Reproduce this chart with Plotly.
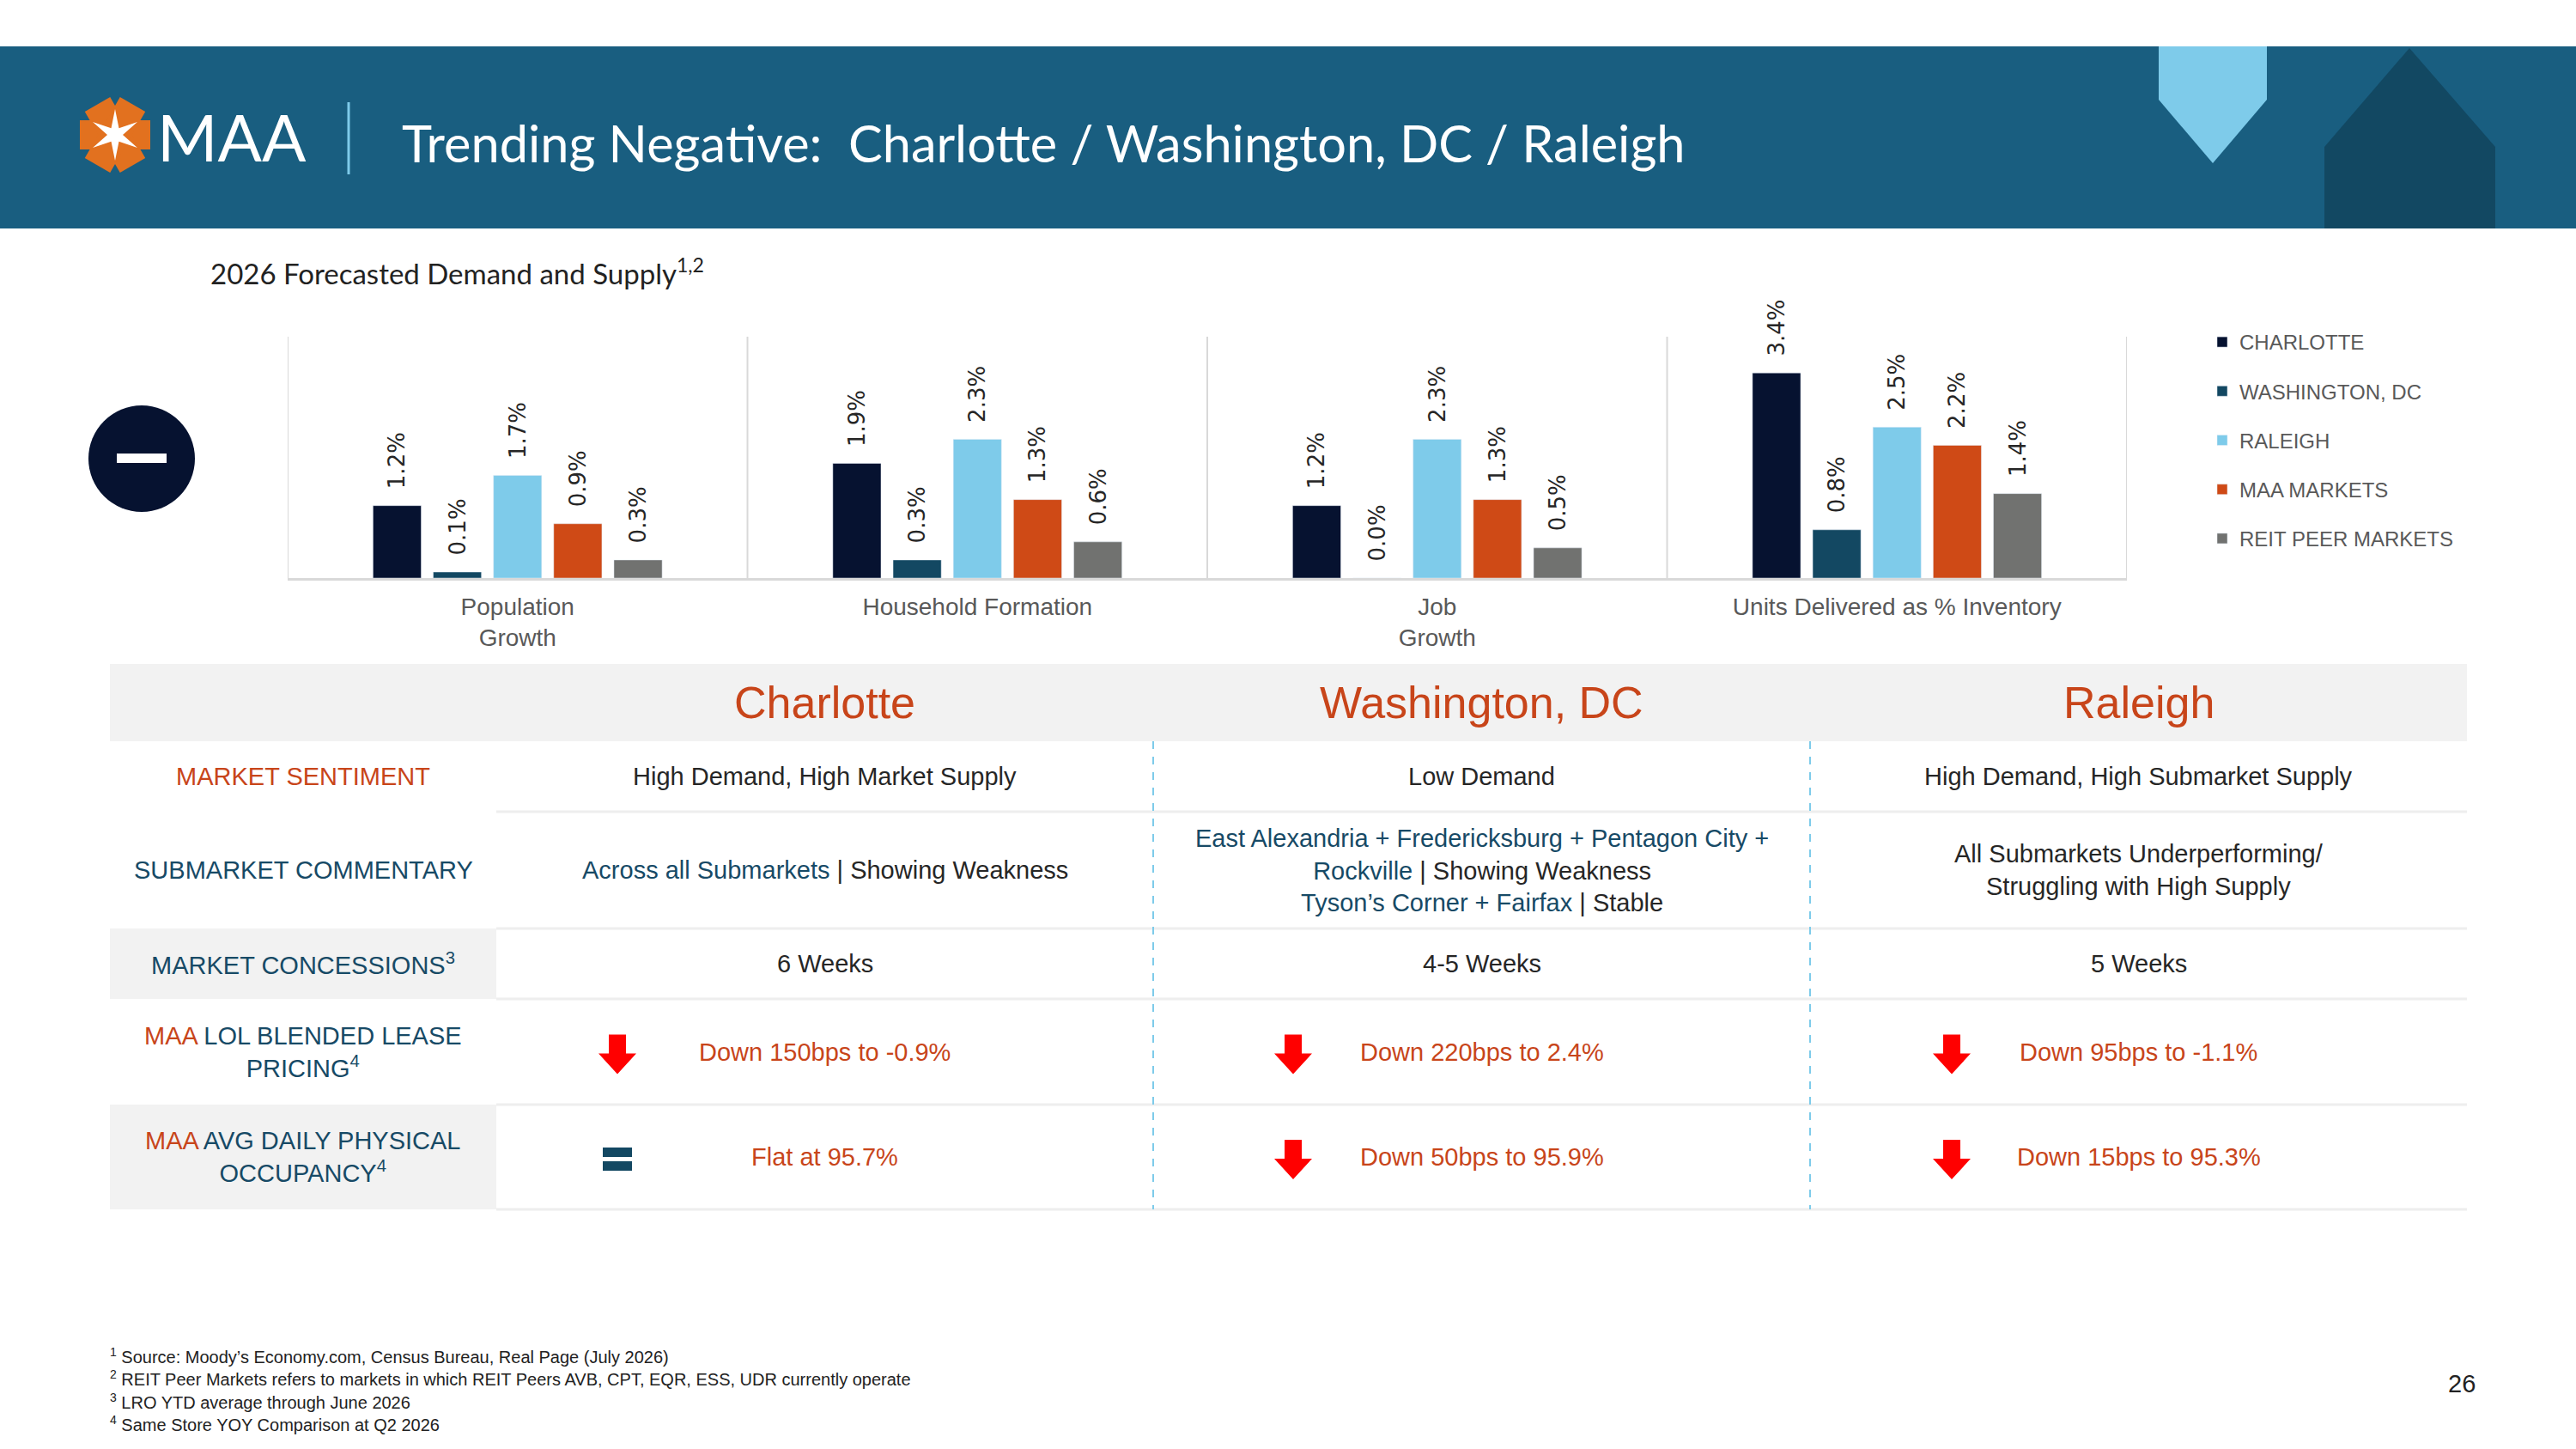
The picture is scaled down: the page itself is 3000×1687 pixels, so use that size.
import math
import plotly.graph_objects as go

W, H = 3000, 1687

# chart data
metrics = ["Population<br>Growth", "Household Formation", "Job<br>Growth",
           "Units Delivered as % Inventory"]
series_names = ["CHARLOTTE", "WASHINGTON, DC", "RALEIGH", "MAA MARKETS", "REIT PEER MARKETS"]
charlotte = [1.2, 1.9, 1.2, 3.4]
washington = [0.1, 0.3, 0.0, 0.8]
raleigh = [1.7, 2.3, 2.3, 2.5]
maa_markets = [0.9, 1.3, 1.3, 2.2]
reit_peers = [0.3, 0.6, 0.5, 1.4]
series_colors = ["#061230", "#134862", "#7ecbea", "#cf4a16", "#717270"]

# table data
markets = ["Charlotte", "Washington, DC", "Raleigh"]
sentiment = ["High Demand, High Market Supply", "Low Demand",
             "High Demand, High Submarket Supply"]
concessions = ["6 Weeks", "4-5 Weeks", "5 Weeks"]
lease_pricing = ["Down 150bps to -0.9%", "Down 220bps to 2.4%", "Down 95bps to -1.1%"]
lease_trend = ["down", "down", "down"]
occupancy = ["Flat at 95.7%", "Down 50bps to 95.9%", "Down 15bps to 95.3%"]
occupancy_trend = ["flat", "down", "down"]

ORANGE = "#c8451a"
TEAL = "#174a66"
DARK = "#262626"
GREY = "#595959"
FONT = "Liberation Sans, Arial, sans-serif"

commentary = [
    f"<span style='color:{TEAL}'>Across all Submarkets</span> | Showing Weakness",
    f"<span style='color:{TEAL}'>East Alexandria + Fredericksburg + Pentagon City +</span><br>"
    f"<span style='color:{TEAL}'>Rockville</span> | Showing Weakness<br>"
    f"<span style='color:{TEAL}'>Tyson’s Corner + Fairfax</span> | Stable",
    "All Submarkets Underperforming/<br>Struggling with High Supply",
]
row_labels = [
    f"<span style='color:{ORANGE}'>MARKET SENTIMENT</span>",
    "SUBMARKET COMMENTARY",
    "MARKET CONCESSIONS<sup>3</sup>",
    f"<span style='color:{ORANGE}'>MAA</span> LOL BLENDED LEASE<br>PRICING<sup>4</sup>",
    f"<span style='color:{ORANGE}'>MAA</span> AVG DAILY PHYSICAL<br>OCCUPANCY<sup>4</sup>",
]
footnotes = [
    "<sup>1</sup> Source: Moody’s Economy.com, Census Bureau, Real Page (July 2026)",
    "<sup>2</sup> REIT Peer Markets refers to markets in which REIT Peers AVB, CPT, EQR, ESS, UDR currently operate",
    "<sup>3</sup> LRO YTD average through June 2026",
    "<sup>4</sup> Same Store YOY Comparison at Q2 2026",
]


def px(x):
    return x / W


def py(y):
    return 1 - y / H


def path(points):
    return "M" + " L".join(f"{px(x)},{py(y)}" for x, y in points) + " Z"


fig = go.Figure()

all_series = [charlotte, washington, raleigh, maa_markets, reit_peers]
for name, vals, col in zip(series_names, all_series, series_colors):
    fig.add_trace(go.Bar(
        x=metrics, y=vals, name=name, marker_color=col, legendgroup=name,
        texttemplate="&nbsp;&nbsp;%{y:.1f}%", textposition="outside", textangle=-90,
        textfont=dict(family="DejaVu Sans, sans-serif", size=26, color=DARK),
        constraintext="none", cliponaxis=False,
    ))

shapes = []
annotations = []

# header band
shapes.append(dict(type="rect", xref="paper", yref="paper", x0=0, x1=1,
                   y0=py(266), y1=py(54), fillcolor="#195e80", line_width=0, layer="below"))
shapes.append(dict(type="path", xref="paper", yref="paper", fillcolor="#7ecbea", line_width=0,
                   path=path([(2514, 54), (2640, 54), (2640, 116), (2577, 190), (2514, 116)])))
shapes.append(dict(type="path", xref="paper", yref="paper", fillcolor="#124862", line_width=0,
                   path=path([(2806, 56), (2906, 171), (2906, 266), (2707, 266), (2707, 171)])))

# logo star
cx, cy = 134, 157
for ang in [0, 60, 120]:
    a = math.radians(ang)
    ca, sa = math.cos(a), math.sin(a)
    pts = []
    for dx, dy in [(-41, -17), (41, -17), (41, 17), (-41, 17)]:
        pts.append((cx + dx * ca - dy * sa, cy + dx * sa + dy * ca))
    shapes.append(dict(type="path", xref="paper", yref="paper", fillcolor="#e2711f",
                       line_width=0, path=path(pts)))
star = []
for k in range(12):
    r = 30 if k % 2 == 0 else 9
    a = math.radians(-90 + k * 30)
    star.append((cx + r * math.cos(a), cy + r * math.sin(a)))
shapes.append(dict(type="path", xref="paper", yref="paper", fillcolor="white",
                   line_width=0, path=path(star)))
annotations.append(dict(text="MAA", x=px(181), y=py(158), xref="paper", yref="paper",
                        xanchor="left", yanchor="middle", showarrow=False,
                        font=dict(family="Lato, sans-serif", size=76, color="white")))
shapes.append(dict(type="line", xref="paper", yref="paper", x0=px(406), x1=px(406),
                   y0=py(119), y1=py(203), line=dict(color="#7ecbea", width=3)))
annotations.append(dict(text="Trending Negative:&nbsp; Charlotte / Washington, DC / Raleigh",
                        x=px(466), y=py(166), xref="paper", yref="paper",
                        xanchor="left", yanchor="middle", showarrow=False,
                        font=dict(family="Lato, sans-serif", size=59.5, color="white")))

# chart subtitle
annotations.append(dict(text="2026 Forecasted Demand and Supply<sup>1,2</sup>",
                        x=px(243), y=py(316), xref="paper", yref="paper",
                        xanchor="left", yanchor="middle", showarrow=False,
                        font=dict(family="Lato, sans-serif", size=33, color="#222222")))

# group dividers
for i in range(len(metrics) + 1):
    shapes.append(dict(type="line", xref="x", yref="paper", x0=i - 0.5, x1=i - 0.5,
                       y0=py(673), y1=py(392), line=dict(color="#d9d9d9", width=2),
                       layer="below"))

# minus badge
shapes.append(dict(type="circle", xref="paper", yref="paper", x0=px(103), x1=px(227),
                   y0=py(596), y1=py(472), fillcolor="#061230", line_width=0))
shapes.append(dict(type="rect", xref="paper", yref="paper", x0=px(136), x1=px(194),
                   y0=py(539), y1=py(528), fillcolor="white", line_width=0))

# table layout
TX0, TX1 = 128, 2873
col_edges = [578, 1343, 2108, 2873]
row_edges = [773, 863, 945, 1081, 1163, 1286, 1408]
icon_dx = [141, 163, 165]

shapes.append(dict(type="rect", xref="paper", yref="paper", x0=px(TX0), x1=px(TX1),
                   y0=py(row_edges[1]), y1=py(row_edges[0]), fillcolor="#f2f2f2",
                   line_width=0, layer="below"))
for r in [3, 5]:
    shapes.append(dict(type="rect", xref="paper", yref="paper", x0=px(TX0), x1=px(col_edges[0]),
                       y0=py(row_edges[r + 1]), y1=py(row_edges[r]), fillcolor="#f2f2f2",
                       line_width=0, layer="below"))
for y in row_edges[2:]:
    shapes.append(dict(type="line", xref="paper", yref="paper", x0=px(col_edges[0]), x1=px(TX1),
                       y0=py(y), y1=py(y), line=dict(color="#eeeeee", width=3), layer="below"))
for x in col_edges[1:3]:
    shapes.append(dict(type="line", xref="paper", yref="paper", x0=px(x), x1=px(x),
                       y0=py(row_edges[1]), y1=py(row_edges[-1]),
                       line=dict(color="#7ecbea", width=2, dash="dash")))


def row_mid(r):
    return (row_edges[r] + row_edges[r + 1]) / 2


def add_text(text, x, y, size=29, color=DARK):
    annotations.append(dict(text=text, x=px(x), y=py(y), xref="paper", yref="paper",
                            xanchor="center", yanchor="middle", showarrow=False,
                            font=dict(family=FONT, size=size, color=color)))


for r, lab in enumerate(row_labels):
    add_text(lab, (TX0 + col_edges[0]) / 2, row_mid(r + 1), color=TEAL)


def down_arrow(x, y):
    return path([(x - 10, y - 23), (x + 10, y - 23), (x + 10, y - 1), (x + 22, y - 1),
                 (x, y + 23), (x - 22, y - 1), (x - 10, y - 1)])


for c, name in enumerate(markets):
    cx0, cx1 = col_edges[c], col_edges[c + 1]
    mid = (cx0 + cx1) / 2
    add_text(name, mid, row_mid(0), size=52, color=ORANGE)
    add_text(sentiment[c], mid, row_mid(1))
    add_text(commentary[c], mid, row_mid(2))
    add_text(concessions[c], mid, row_mid(3))
    add_text(lease_pricing[c], mid, row_mid(4), color=ORANGE)
    add_text(occupancy[c], mid, row_mid(5), color=ORANGE)
    ix = cx0 + icon_dx[c]
    for r, trend in [(4, lease_trend[c]), (5, occupancy_trend[c])]:
        yc = row_mid(r) + 3
        if trend == "down":
            shapes.append(dict(type="path", xref="paper", yref="paper", fillcolor="#ff0000",
                               line_width=0, path=down_arrow(ix, yc)))
        else:
            for y0 in [yc - 14, yc + 2]:
                shapes.append(dict(type="rect", xref="paper", yref="paper",
                                   x0=px(ix - 17), x1=px(ix + 17), y0=py(y0 + 11), y1=py(y0),
                                   fillcolor="#134862", line_width=0))

# footnotes and page number
for i, note in enumerate(footnotes):
    annotations.append(dict(text=note, x=px(126), y=py(1578 + i * 26.5), xref="paper",
                            yref="paper", xanchor="left", yanchor="middle", showarrow=False,
                            font=dict(family=FONT, size=20, color="#222222")))
annotations.append(dict(text="26", x=px(2885), y=py(1611), xref="paper", yref="paper",
                        xanchor="right", yanchor="middle", showarrow=False,
                        font=dict(family=FONT, size=29, color="#222222")))

fig.update_layout(
    width=W, height=H,
    margin=dict(l=0, r=0, t=0, b=0),
    paper_bgcolor="white", plot_bgcolor="white",
    barmode="group", bargap=0.345, bargroupgap=0.2,
    showlegend=True,
    legend=dict(x=px(2568), y=py(376), xanchor="left", yanchor="top",
                traceorder="grouped", tracegroupgap=23, itemwidth=30,
                font=dict(family=FONT, size=24, color=GREY),
                bgcolor="rgba(0,0,0,0)"),
    xaxis=dict(domain=[px(335), px(2477)], range=[-0.5, 3.5], showline=True,
               linecolor="#d9d9d9", linewidth=3, ticks="", showgrid=False,
               ticklabelstandoff=6,
               tickfont=dict(family=FONT, size=28, color=GREY)),
    yaxis=dict(domain=[py(673), py(392)], range=[0, 4], visible=False, showgrid=False),
    shapes=shapes,
    annotations=annotations,
)

fig.write_html("out.html", config={"displayModeBar": False},
               post_script="document.body.style.margin='0';")
